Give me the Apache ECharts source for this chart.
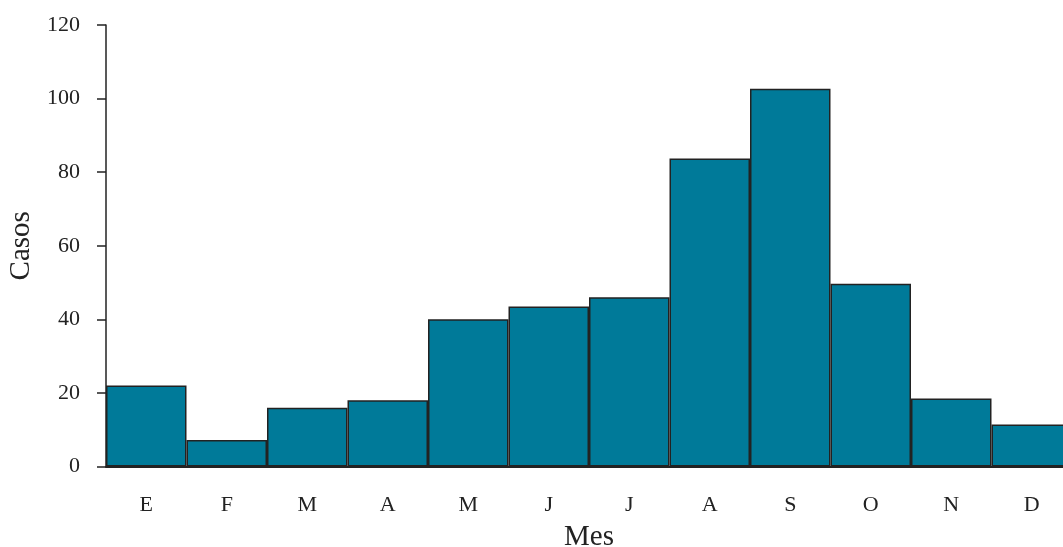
<!DOCTYPE html>
<html>
<head>
<meta charset="utf-8">
<script src="https://cdn.jsdelivr.net/npm/echarts@6/dist/echarts.min.js"></script>
<style>html,body{margin:0;padding:0;background:#fff;}#c{width:1063px;height:547px;}</style>
</head>
<body>
<div id="c"></div>
<script>
const months = ['E','F','M','A','M','J','J','A','S','O','N','D'];
const casos = [22, 7.2, 16, 18, 40, 43.5, 46, 83.7, 102.7, 49.7, 18.5, 11.4];
const yTicks = {min: 0, max: 120, interval: 20};
const xTitle = 'Mes';
const yTitle = 'Casos';

const font = '"Liberation Serif", "DejaVu Serif", serif';
const chart = echarts.init(document.getElementById('c'), null, {renderer: 'canvas'});
chart.setOption({
  animation: false,
  grid: {left: 106, top: 25, width: 966, height: 441.5, containLabel: false, outerBoundsMode: 'none'},
  xAxis: {
    type: 'category',
    data: months,
    name: xTitle,
    nameLocation: 'middle',
    nameGap: 56,
    nameTextStyle: {fontFamily: font, fontSize: 29, color: '#222'},
    axisLine: {lineStyle: {color: '#222', width: 2}},
    axisTick: {show: false},
    axisLabel: {fontFamily: font, fontSize: 22, color: '#222', margin: 28}
  },
  yAxis: {
    type: 'value',
    min: yTicks.min, max: yTicks.max, interval: yTicks.interval,
    name: yTitle,
    nameLocation: 'middle',
    nameGap: 68,
    nameTextStyle: {fontFamily: font, fontSize: 29, color: '#222'},
    axisLine: {show: true, lineStyle: {color: '#222', width: 1.5}},
    axisTick: {show: true, length: 9, lineStyle: {color: '#222', width: 1.5}},
    axisLabel: {fontFamily: font, fontSize: 22, color: '#222', margin: 26},
    splitLine: {show: false}
  },
  series: [{
    type: 'bar',
    data: casos,
    barCategoryGap: '0%',
    itemStyle: {color: '#007A99', borderColor: '#222', borderWidth: 1.5}
  }]
});
</script>
</body>
</html>
